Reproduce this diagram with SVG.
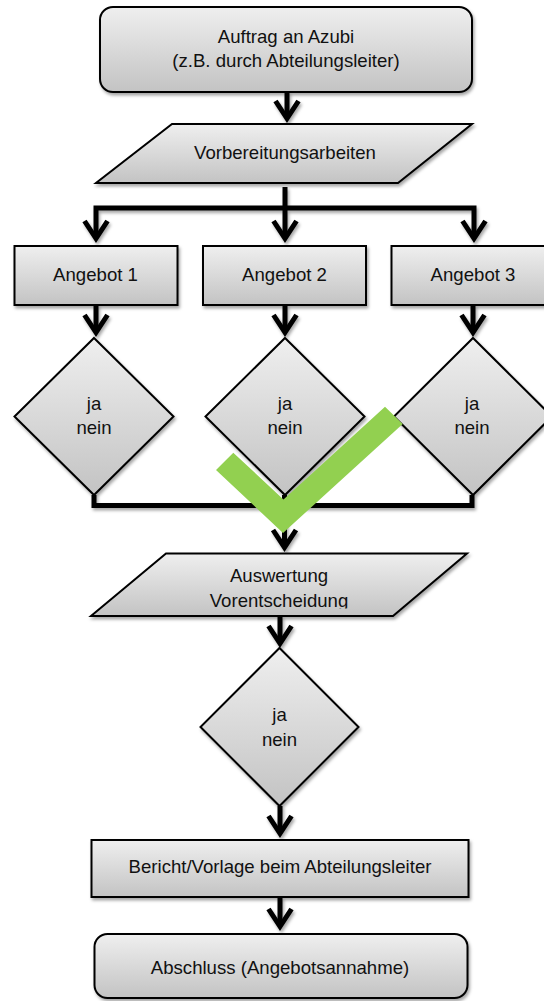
<svg xmlns="http://www.w3.org/2000/svg" width="544" height="1001" viewBox="0 0 544 1001">
<style>
.n{fill:url(#g);stroke:#000;stroke-width:2;filter:url(#sh)}
.t{font-family:"Liberation Sans",Arial,Helvetica,sans-serif;font-size:18.6px;fill:#111;text-anchor:middle}
.c{fill:none;stroke:#000;stroke-width:5;stroke-linejoin:miter}
.a{marker-end:url(#ah)}
</style>
<defs>
<linearGradient id="g" x1="0" y1="0" x2="0" y2="1">
<stop offset="0" stop-color="#efefef"/>
<stop offset="1" stop-color="#c3c3c3"/>
</linearGradient>
<filter id="sh" x="-10%" y="-10%" width="125%" height="130%">
<feDropShadow dx="1.5" dy="2.5" stdDeviation="1.5" flood-color="#000" flood-opacity="0.35"/>
</filter>
<marker id="ah" markerUnits="userSpaceOnUse" orient="auto" refX="-6" refY="0" markerWidth="30" markerHeight="30" overflow="visible">
<path d="M-22,-11.5 L-4.5,0 L-22,11.5" fill="none" stroke="#000" stroke-width="5" stroke-linejoin="miter"/>
</marker>
<clipPath id="clipP2"><rect x="0" y="540" width="544" height="68.5"/></clipPath>
</defs>
<rect width="544" height="1001" fill="#fff"/>

<g id="connectors" filter="url(#sh)">
<path class="c a" d="M287,92 V117"/>
<path class="c a" d="M285,187 V237"/>
<path class="c a" d="M285,208 H96 V237"/>
<path class="c a" d="M285,208 H474 V237"/>
<path class="c a" d="M96,305 V331"/>
<path class="c a" d="M285,305 V331"/>
<path class="c a" d="M473,305 V331"/>
<path class="c" d="M94,495 V505.5 H472 V495"/>
<path class="c a" d="M284.5,495 V546"/>
<path class="c a" d="M280,616 V642"/>
<path class="c a" d="M280,806 V832"/>
<path class="c a" d="M280,897 V925"/>
</g>

<g id="start">
<rect class="n" x="100" y="7" width="372" height="85" rx="13"/>
<text class="t" x="286" y="43">Auftrag an Azubi</text>
<text class="t" x="286" y="67">(z.B. durch Abteilungsleiter)</text>
</g>
<g id="vorbereitung">
<polygon class="n" points="172,124 472,124 398,183 96,183"/>
<text class="t" x="285" y="159">Vorbereitungsarbeiten</text>
</g>
<g id="angebot1">
<rect class="n" x="14.5" y="246" width="163" height="59"/>
<text class="t" x="95.5" y="281">Angebot 1</text>
</g>
<g id="angebot2">
<rect class="n" x="203" y="246" width="163" height="59"/>
<text class="t" x="284.5" y="281">Angebot 2</text>
</g>
<g id="angebot3">
<rect class="n" x="391.5" y="246" width="163" height="59"/>
<text class="t" x="473" y="281">Angebot 3</text>
</g>
<g id="entscheidung1">
<polygon class="n" points="94,338 173.5,416.5 94,495 14.5,416.5"/>
<text class="t" x="94" y="410">ja</text>
<text class="t" x="94" y="434">nein</text>
</g>
<g id="entscheidung2">
<polygon class="n" points="285,338 364.5,416.5 285,495 205.5,416.5"/>
<text class="t" x="285" y="410">ja</text>
<text class="t" x="285" y="434">nein</text>
</g>
<g id="entscheidung3">
<polygon class="n" points="473,338 552,416.5 473,495 394,416.5"/>
<text class="t" x="472" y="410">ja</text>
<text class="t" x="472" y="434">nein</text>
</g>
<g id="auswertung">
<polygon class="n" points="166,553.5 467,553.5 393,616 91,616"/>
<g clip-path="url(#clipP2)">
<text class="t" x="279" y="582">Auswertung</text>
<text class="t" x="279" y="607">Vorentscheidung</text>
</g>
</g>
<g id="entscheidung4">
<polygon class="n" points="279.5,648 358.5,727 279.5,806 200.5,727"/>
<text class="t" x="279.5" y="721">ja</text>
<text class="t" x="279.5" y="746">nein</text>
</g>
<g id="bericht">
<rect class="n" x="91.5" y="840" width="377" height="57"/>
<text class="t" x="280" y="873">Bericht/Vorlage beim Abteilungsleiter</text>
</g>
<g id="abschluss">
<rect class="n" x="94.5" y="934" width="373" height="64" rx="13"/>
<text class="t" x="280" y="974">Abschluss (Angebotsannahme)</text>
</g>
<g id="haken">
<polygon points="216,470 233.3,452.7 283.5,499.5 385,406.7 402.7,424 283,533" fill="#92d050"/>
</g>
</svg>
